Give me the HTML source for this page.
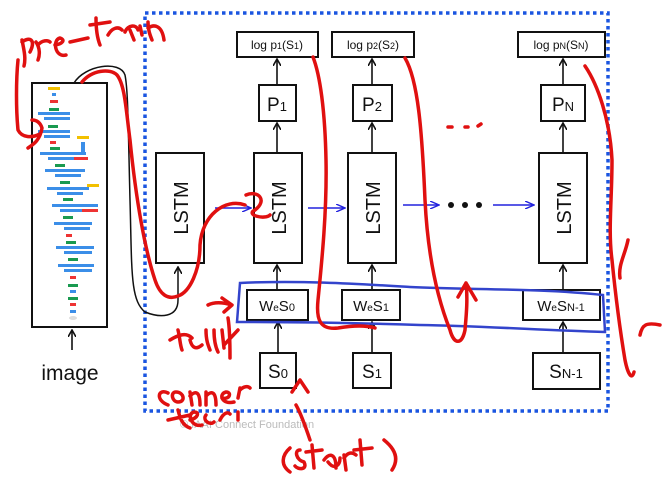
<!DOCTYPE html>
<html><head><meta charset="utf-8"><style>
html,body{margin:0;padding:0;background:#fff;width:663px;height:481px;overflow:hidden}
svg{display:block}
text{font-family:"Liberation Sans",sans-serif;fill:#111}
</style></head><body>
<svg width="663" height="481" viewBox="0 0 663 481" xmlns="http://www.w3.org/2000/svg">
<defs>
<marker id="ah" markerWidth="8" markerHeight="8" refX="6" refY="4" orient="auto" markerUnits="userSpaceOnUse"><path d="M0,0 L7,4 L0,8" fill="none" stroke="#111" stroke-width="1.6"/></marker>
<marker id="bh" markerWidth="10" markerHeight="8" refX="8" refY="4" orient="auto" markerUnits="userSpaceOnUse"><path d="M0,0 L9,4 L0,8" fill="none" stroke="#2222dd" stroke-width="1.4"/></marker>
</defs>
<rect x="145" y="13" width="463" height="398" fill="none" stroke="#1a55e0" stroke-width="3.5" stroke-dasharray="3.5,3.5"/>
<rect x="32" y="83" width="75" height="244" fill="#fff" stroke="#111" stroke-width="2"/>
<g>
<rect x="48" y="87" width="12" height="3" fill="#f2c000"/>
<rect x="52" y="93" width="4" height="3" fill="#3b8ee8"/>
<rect x="50" y="100" width="8" height="3" fill="#e33"/>
<rect x="49" y="108" width="10" height="3" fill="#1a9a50"/>
<rect x="38" y="112" width="32" height="3" fill="#3b8ee8"/>
<rect x="44" y="117" width="26" height="3" fill="#3b8ee8"/>
<rect x="48" y="125" width="10" height="3" fill="#1a9a50"/>
<rect x="38" y="130" width="32" height="3" fill="#3b8ee8"/>
<rect x="44" y="135" width="26" height="3" fill="#3b8ee8"/>
<rect x="77" y="136" width="12" height="3" fill="#f2c000"/>
<rect x="81" y="142" width="4" height="10" fill="#3b8ee8"/>
<rect x="50" y="141" width="6" height="3" fill="#e33"/>
<rect x="50" y="147" width="10" height="3" fill="#1a9a50"/>
<rect x="40" y="152" width="46" height="3" fill="#3b8ee8"/>
<rect x="48" y="157" width="26" height="3" fill="#3b8ee8"/><rect x="74" y="157" width="14" height="3" fill="#e33"/>
<rect x="55" y="164" width="10" height="3" fill="#1a9a50"/>
<rect x="45" y="169" width="40" height="3" fill="#3b8ee8"/>
<rect x="55" y="174" width="26" height="3" fill="#3b8ee8"/>
<rect x="60" y="181" width="10" height="3" fill="#1a9a50"/>
<rect x="87" y="184" width="12" height="3" fill="#f2c000"/>
<rect x="47" y="187" width="42" height="3" fill="#3b8ee8"/>
<rect x="57" y="192" width="26" height="3" fill="#3b8ee8"/>
<rect x="63" y="198" width="10" height="3" fill="#1a9a50"/>
<rect x="52" y="204" width="46" height="3" fill="#3b8ee8"/>
<rect x="60" y="209" width="22" height="3" fill="#3b8ee8"/><rect x="82" y="209" width="16" height="3" fill="#e33"/>
<rect x="63" y="216" width="10" height="3" fill="#1a9a50"/>
<rect x="54" y="222" width="38" height="3" fill="#3b8ee8"/>
<rect x="64" y="227" width="26" height="3" fill="#3b8ee8"/>
<rect x="66" y="234" width="6" height="3" fill="#e33"/>
<rect x="66" y="241" width="10" height="3" fill="#1a9a50"/>
<rect x="56" y="246" width="38" height="3" fill="#3b8ee8"/>
<rect x="64" y="251" width="28" height="3" fill="#3b8ee8"/>
<rect x="68" y="258" width="10" height="3" fill="#1a9a50"/>
<rect x="58" y="264" width="36" height="3" fill="#3b8ee8"/>
<rect x="64" y="269" width="28" height="3" fill="#3b8ee8"/>
<rect x="70" y="276" width="6" height="3" fill="#e33"/>
<rect x="68" y="284" width="10" height="3" fill="#1a9a50"/>
<rect x="70" y="290" width="6" height="3" fill="#3b8ee8"/>
<rect x="68" y="297" width="10" height="3" fill="#1a9a50"/>
<rect x="70" y="303" width="6" height="3" fill="#e33"/>
<rect x="70" y="310" width="6" height="3" fill="#3b8ee8"/>
<ellipse cx="73" cy="318" rx="4" ry="2" fill="#ddd"/>
</g>
<line x1="72" y1="350" x2="72" y2="331" stroke="#111" stroke-width="1.6" marker-end="url(#ah)"/>
<text x="70" y="380" font-size="21" text-anchor="middle">image</text>
<path d="M74,83 C85,65 120,60 125,75 C128,90 128,120 130,200 C132,270 130,300 145,312 C160,318 178,318 178,300 L178,268" fill="none" stroke="#111" stroke-width="1.5" marker-end="url(#ah)"/>
<g fill="#fff" stroke="#111" stroke-width="2">
<rect x="156" y="153" width="48" height="110"/>
<rect x="254" y="153" width="48" height="110"/>
<rect x="348" y="153" width="48" height="110"/>
<rect x="539" y="153" width="48" height="110"/>
<rect x="259" y="85" width="37" height="36"/>
<rect x="353" y="85" width="39" height="36"/>
<rect x="541" y="85" width="44" height="36"/>
<rect x="237" y="32" width="81" height="25"/>
<rect x="332" y="32" width="82" height="25"/>
<rect x="518" y="32" width="87" height="25"/>
<rect x="247" y="290" width="61" height="30"/>
<rect x="342" y="290" width="58" height="30"/>
<rect x="523" y="290" width="77" height="30"/>
<rect x="260" y="353" width="36" height="35"/>
<rect x="353" y="353" width="38" height="35"/>
<rect x="533" y="353" width="67" height="36"/>
</g>
<g font-size="20">
<text transform="translate(188,208) rotate(-90)" text-anchor="middle">LSTM</text>
<text transform="translate(286,208) rotate(-90)" text-anchor="middle">LSTM</text>
<text transform="translate(380,208) rotate(-90)" text-anchor="middle">LSTM</text>
<text transform="translate(571,208) rotate(-90)" text-anchor="middle">LSTM</text>
</g>
<g font-size="19" text-anchor="middle">
<text x="277" y="111">P<tspan font-size="13">1</tspan></text>
<text x="372" y="111">P<tspan font-size="13">2</tspan></text>
<text x="563" y="111">P<tspan font-size="13">N</tspan></text>
</g>
<g font-size="12" text-anchor="middle">
<text x="277" y="49">log p<tspan font-size="9">1</tspan>(S<tspan font-size="9">1</tspan>)</text>
<text x="373" y="49">log p<tspan font-size="9">2</tspan>(S<tspan font-size="9">2</tspan>)</text>
<text x="561" y="49">log p<tspan font-size="9">N</tspan>(S<tspan font-size="9">N</tspan>)</text>
</g>
<g font-size="15" text-anchor="middle">
<text x="277" y="311">W<tspan font-size="10">e</tspan>S<tspan font-size="11">0</tspan></text>
<text x="371" y="311">W<tspan font-size="10">e</tspan>S<tspan font-size="11">1</tspan></text>
<text x="561" y="311">W<tspan font-size="10">e</tspan>S<tspan font-size="11">N-1</tspan></text>
</g>
<g font-size="19" text-anchor="middle">
<text x="278" y="378">S<tspan font-size="13">0</tspan></text>
<text x="372" y="378">S<tspan font-size="13">1</tspan></text>
<text x="566" y="378">S<tspan font-size="13">N-1</tspan></text>
</g>
<g stroke="#111" stroke-width="1.6" marker-end="url(#ah)">
<line x1="277" y1="84" x2="277" y2="60"/><line x1="372" y1="84" x2="372" y2="60"/><line x1="563" y1="84" x2="563" y2="60"/>
<line x1="277" y1="152" x2="277" y2="124"/><line x1="372" y1="152" x2="372" y2="124"/><line x1="563" y1="152" x2="563" y2="124"/>
<line x1="277" y1="289" x2="277" y2="266"/><line x1="372" y1="289" x2="372" y2="266"/><line x1="563" y1="289" x2="563" y2="266"/>
<line x1="278" y1="352" x2="278" y2="323"/><line x1="372" y1="352" x2="372" y2="323"/><line x1="563" y1="352" x2="563" y2="323"/>
</g>
<g stroke="#2222dd" stroke-width="1.4" marker-end="url(#bh)">
<line x1="215" y1="208" x2="250" y2="208"/>
<line x1="308" y1="208" x2="344" y2="208"/>
<line x1="403" y1="205" x2="438" y2="205"/>
<line x1="493" y1="205" x2="533" y2="205"/>
</g>
<circle cx="451" cy="205" r="3" fill="#111"/><circle cx="465" cy="205" r="3" fill="#111"/><circle cx="479" cy="205" r="3" fill="#111"/>
<text x="180" y="428" font-size="11" style="fill:#bbb">© IAAI Connect Foundation</text>
<path d="M240,283 C300,280 360,284 410,287 C470,290 540,288 603,295 L605,332 C540,330 480,326 420,325 C360,323 300,322 237,322 Z" fill="none" stroke="#3344cc" stroke-width="2.5"/>
<g fill="none" stroke="#e01010" stroke-width="3.5" stroke-linecap="round" stroke-linejoin="round">
<path d="M22,40 C24,50 26,58 24,66 M22,42 C30,36 36,40 30,52 M36,42 C40,48 40,55 38,60 M38,45 C42,40 48,40 50,42 M55,45 C62,44 66,40 60,38 C52,40 55,58 66,55 M70,42 L88,38 M96,18 C96,30 98,40 100,45 M90,25 L110,22 M108,35 C112,28 118,26 122,30 M125,32 C128,25 136,24 138,30 M130,30 L134,40 M140,26 L142,35 M148,22 C148,30 150,35 152,40 M148,28 C154,24 162,25 164,40"/>
<path d="M18,60 C16,80 16,110 18,130 C22,138 32,138 40,134 M28,148 C34,144 40,140 42,128 C40,122 36,120 32,120"/>
<path d="M82,82 C92,70 110,68 117,75 C125,85 126,110 130,140 C136,200 145,250 155,280 C160,295 168,300 178,296 C190,292 200,270 200,245 C202,215 225,198 245,205 M246,195 C258,190 268,200 255,210 C245,215 265,220 270,215"/>
<path d="M313,57 C320,75 325,110 326,160 C327,210 322,260 318,300 C316,320 320,330 338,328 C350,326 365,325 375,328"/>
<path d="M405,58 C418,80 422,130 425,200 C428,260 438,300 450,330 C454,345 462,345 465,330 C466,318 468,300 466,283 M458,297 L466,283 L476,300"/>
<path d="M448,127 L452,127 M465,127 L468,127 M478,126 L481,124"/>
<path d="M585,66 C598,85 610,120 612,160 C612,200 608,230 612,260 C616,300 620,330 625,360 C628,375 632,380 634,372 M628,240 C625,255 618,265 620,278 M640,335 C642,325 646,322 660,325"/>
<path d="M208,305 C214,302 222,302 232,305 M222,298 L232,305 L224,312"/>
<path d="M170,340 C178,335 186,332 192,338 M178,330 C180,338 180,345 182,350 M190,340 C192,348 196,350 202,345 M206,330 C206,340 208,345 210,350 M214,330 C214,340 216,348 218,352 M222,330 L224,348 M228,318 C230,330 230,345 230,358 M224,345 L238,330"/>
<path d="M168,393 C158,388 155,400 168,405 M176,392 C170,392 172,402 178,402 C186,402 184,392 176,392 M190,392 L192,405 M190,396 C196,390 200,392 200,405 M206,392 L206,405 M206,396 C212,390 216,392 216,405 M222,398 C230,400 232,392 226,392 C218,394 222,405 234,402 M240,388 L238,398 M240,390 C244,386 248,386 250,388"/>
<path d="M168,420 L190,415 M178,410 C180,418 182,425 190,428 M190,420 C198,418 200,412 194,412 C186,414 192,428 202,425 M206,415 C202,420 210,426 214,422 M220,420 C224,412 228,412 230,414 M238,412 L238,420"/>
<path d="M296,405 C300,412 305,425 310,440 M292,392 L300,380 L308,392"/>
<path d="M290,448 C282,455 280,465 290,472 M300,450 C294,450 296,460 304,462 C308,470 298,470 295,466 M312,445 L314,468 M306,452 L322,450 M324,460 C330,452 336,454 336,468 M328,462 C334,470 340,466 340,458 M344,455 L346,470 M344,458 C348,452 352,452 356,455 M360,440 L362,465 M354,450 L372,448 M384,440 C394,448 400,458 392,470"/>
</g>
</svg>
</body></html>
